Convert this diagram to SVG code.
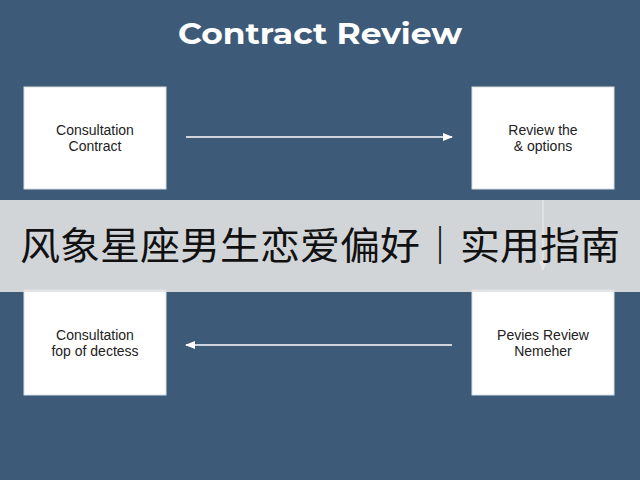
<svg xmlns="http://www.w3.org/2000/svg" width="640" height="480" viewBox="0 0 640 480">
<defs>
<marker id="ah" markerWidth="10" markerHeight="8" refX="9" refY="4" orient="auto" markerUnits="userSpaceOnUse"><path d="M0,0 L10,4 L0,8 Z" fill="#ffffff"/></marker>
<style>
.box{fill:#ffffff;stroke:#d8dde3;stroke-width:1}
.lbl{font-family:"Liberation Sans",Arial,sans-serif;font-size:14px;fill:#222;text-anchor:middle}
.conn{stroke:#ffffff;stroke-width:1.5;fill:none;marker-end:url(#ah)}
</style>
</defs>
<rect width="640" height="480" fill="#3e5a79"/>
<text x="320" y="44" font-family="Montserrat,'Open Sans','Liberation Sans',sans-serif" font-weight="bold" font-size="29" fill="#ffffff" text-anchor="middle" textLength="284" lengthAdjust="spacingAndGlyphs">Contract Review</text>
<g id="connectors">
<line class="conn" x1="186" y1="137" x2="452" y2="137"/>
<line class="conn" x1="543" y1="200" x2="543" y2="270"/>
<line class="conn" x1="452" y1="345" x2="186" y2="345"/>
</g>
<g id="n1"><rect class="box" x="24" y="87" width="142" height="102"/><text class="lbl" x="95" y="135">Consultation</text><text class="lbl" x="95" y="151">Contract</text></g>
<g id="n2"><rect class="box" x="472" y="87" width="142" height="102"/><text class="lbl" x="543" y="135">Review the</text><text class="lbl" x="543" y="151">&amp; options</text></g>
<g id="n3"><rect class="box" x="24" y="290" width="142" height="105"/><text class="lbl" x="95" y="340">Consultation</text><text class="lbl" x="95" y="356">fop of dectess</text></g>
<g id="n4"><rect class="box" x="472" y="290" width="142" height="105"/><text class="lbl" x="543" y="340">Pevies Review</text><text class="lbl" x="543" y="356">Nemeher</text></g>
<rect x="0" y="200" width="640" height="92" fill="#e2e2e2" fill-opacity="0.9"/>
<text x="320" y="259" font-family="'Noto Sans CJK SC',sans-serif" font-size="38" fill="#111" text-anchor="middle" textLength="600" lengthAdjust="spacingAndGlyphs">风象星座男生恋爱偏好｜实用指南</text>
</svg>
